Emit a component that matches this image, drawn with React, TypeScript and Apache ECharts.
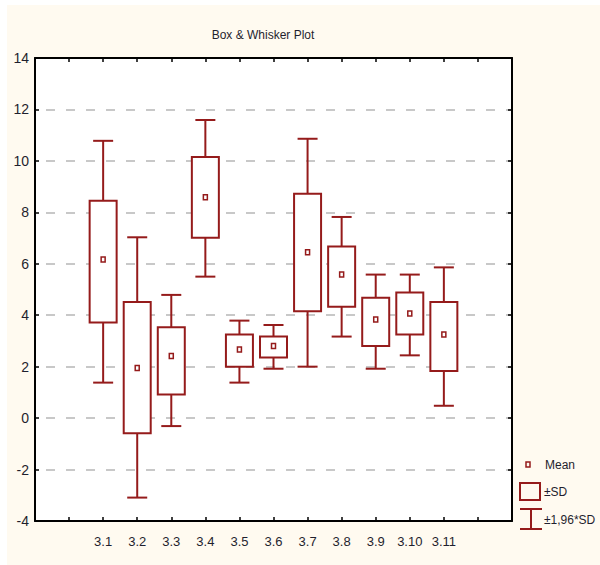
import React, { useEffect, useRef } from "react";
import * as echarts from "echarts";

const categories = ["3.1", "3.2", "3.3", "3.4", "3.5", "3.6", "3.7", "3.8", "3.9", "3.10", "3.11"];
const lowerWhisker = [1.38, -3.09, -0.31, 5.5, 1.38, 1.92, 2.0, 3.17, 1.92, 2.44, 0.48];
const boxLow = [3.72, -0.59, 0.92, 7.01, 2.0, 2.36, 4.15, 4.33, 2.8, 3.25, 1.83];
const means = [6.15, 1.93, 2.4, 8.57, 2.65, 2.78, 6.43, 5.56, 3.81, 4.05, 3.23];
const boxHigh = [8.45, 4.51, 3.53, 10.15, 3.25, 3.17, 8.72, 6.67, 4.68, 4.88, 4.51];
const upperWhisker = [10.78, 7.03, 4.79, 11.59, 3.79, 3.62, 10.86, 7.82, 5.58, 5.58, 5.86];
const yTicks = { min: -4, max: 14, interval: 2 };
const legendLabels = ["Mean", "±SD", "±1,96*SD"];
const titleText = "Box & Whisker Plot";

const RED = "#951b1b";
const CREAM = "#fffaf0";
const FONT = "'Liberation Sans Narrow', 'Liberation Sans', Arial, sans-serif";
const TXT = "#1f1f2e";
const OX = 7;
const OY = 5;

export default function App() {
  const ref = useRef<HTMLDivElement>(null);
  useEffect(() => {
    if (!ref.current) return;
    const chart = echarts.init(ref.current, null, { renderer: "svg" });
    const data = categories.map((_, i) => [i + 2, lowerWhisker[i], boxLow[i], means[i], boxHigh[i], upperWhisker[i]]);
    const axisLine = { show: true, onZero: false, lineStyle: { color: "#000", width: 2 } };
    const tick = { show: true, inside: true, length: 4, lineStyle: { color: "#000", width: 1.5 } };
    const option: any = {
      animation: false,
      backgroundColor: CREAM,
      grid: {
        left: 35 - OX,
        top: 58 - OY,
        width: 477,
        height: 463,
        show: true,
        backgroundColor: "#fff",
        borderWidth: 0,
      },
      xAxis: [
        {
          type: "value",
          min: 0,
          max: 14,
          interval: 1,
          position: "bottom",
          z: 5,
          axisLine,
          axisTick: tick,
          splitLine: { show: false },
          axisLabel: {
            margin: 14,
            fontSize: 13,
            fontFamily: FONT,
            color: TXT,
            formatter: (v: number) => (v >= 2 && v - 2 < categories.length ? categories[v - 2] : ""),
          },
        },
        {
          type: "value",
          min: 0,
          max: 14,
          interval: 1,
          position: "top",
          z: 5,
          axisLine,
          axisTick: tick,
          splitLine: { show: false },
          axisLabel: { show: false },
        },
      ],
      yAxis: [
        {
          type: "value",
          min: yTicks.min,
          max: yTicks.max,
          interval: yTicks.interval,
          position: "left",
          axisLine,
          axisTick: tick,
          axisLabel: { margin: 6, fontSize: 14, fontFamily: FONT, color: TXT },
          splitLine: {
            show: true,
            lineStyle: { color: "#c8c8c8", width: 2, type: [9, 11], dashOffset: 9 },
          },
        },
        {
          type: "value",
          min: yTicks.min,
          max: yTicks.max,
          interval: yTicks.interval,
          position: "right",
          axisLine,
          axisTick: tick,
          axisLabel: { show: false },
          splitLine: { show: false },
        },
      ],
      series: [
        {
          type: "custom",
          xAxisIndex: 0,
          yAxisIndex: 0,
          data,
          encode: { x: 0, y: [1, 2, 3, 4, 5] },
          renderItem: (params: any, api: any) => {
            const x = api.value(0);
            const c = (v: number) => api.coord([x, v]);
            const [cx, yLW] = c(api.value(1));
            const yBL = c(api.value(2))[1];
            const yM = c(api.value(3))[1];
            const yBH = c(api.value(4))[1];
            const yUW = c(api.value(5))[1];
            const bw = 27;
            const cw = 20;
            const ls = { stroke: RED, lineWidth: 2, fill: null };
            return {
              type: "group",
              children: [
                { type: "line", shape: { x1: cx, y1: yUW, x2: cx, y2: yBH }, style: ls },
                { type: "line", shape: { x1: cx, y1: yBL, x2: cx, y2: yLW }, style: ls },
                { type: "line", shape: { x1: cx - cw / 2, y1: yUW, x2: cx + cw / 2, y2: yUW }, style: ls },
                { type: "line", shape: { x1: cx - cw / 2, y1: yLW, x2: cx + cw / 2, y2: yLW }, style: ls },
                {
                  type: "rect",
                  shape: { x: cx - bw / 2, y: yBH, width: bw, height: yBL - yBH },
                  style: { stroke: RED, lineWidth: 2, fill: "#fff" },
                },
                {
                  type: "rect",
                  shape: { x: cx - 2, y: yM - 3, width: 4, height: 5 },
                  style: { stroke: RED, lineWidth: 1.5, fill: "#fff" },
                },
              ],
            };
          },
        },
      ],
      graphic: [
        {
          type: "text",
          x: 263 - OX,
          y: 35 - OY,
          style: { text: titleText, fontSize: 12, fontFamily: FONT, fill: TXT, align: "center", verticalAlign: "middle" },
        },
        {
          type: "rect",
          shape: { x: 526 - OX, y: 462 - OY, width: 4, height: 5 },
          style: { stroke: RED, lineWidth: 1.5, fill: "transparent" },
        },
        {
          type: "text",
          x: 545 - OX,
          y: 465 - OY,
          style: { text: legendLabels[0], fontSize: 12, fontFamily: FONT, fill: TXT, verticalAlign: "middle" },
        },
        {
          type: "rect",
          shape: { x: 520 - OX, y: 483 - OY, width: 20, height: 17 },
          style: { stroke: RED, lineWidth: 2, fill: "transparent" },
        },
        {
          type: "text",
          x: 544 - OX,
          y: 492 - OY,
          style: { text: legendLabels[1], fontSize: 12, fontFamily: FONT, fill: TXT, verticalAlign: "middle" },
        },
        {
          type: "line",
          shape: { x1: 520 - OX, y1: 509 - OY, x2: 542 - OX, y2: 509 - OY },
          style: { stroke: RED, lineWidth: 2 },
        },
        {
          type: "line",
          shape: { x1: 531 - OX, y1: 509 - OY, x2: 531 - OX, y2: 529 - OY },
          style: { stroke: RED, lineWidth: 2 },
        },
        {
          type: "line",
          shape: { x1: 520 - OX, y1: 529 - OY, x2: 542 - OX, y2: 529 - OY },
          style: { stroke: RED, lineWidth: 2 },
        },
        {
          type: "text",
          x: 544 - OX,
          y: 520 - OY,
          style: { text: legendLabels[2], fontSize: 12, fontFamily: FONT, fill: TXT, verticalAlign: "middle" },
        },
      ],
    };
    chart.setOption(option);
    return () => chart.dispose();
  }, []);
  return (
    <div style={{ position: "fixed", left: 0, top: 0, width: 600, height: 565, background: "#fff" }}>
      <div ref={ref} style={{ position: "absolute", left: OX, top: OY, width: 600 - OX, height: 565 - OY }} />
    </div>
  );
}
